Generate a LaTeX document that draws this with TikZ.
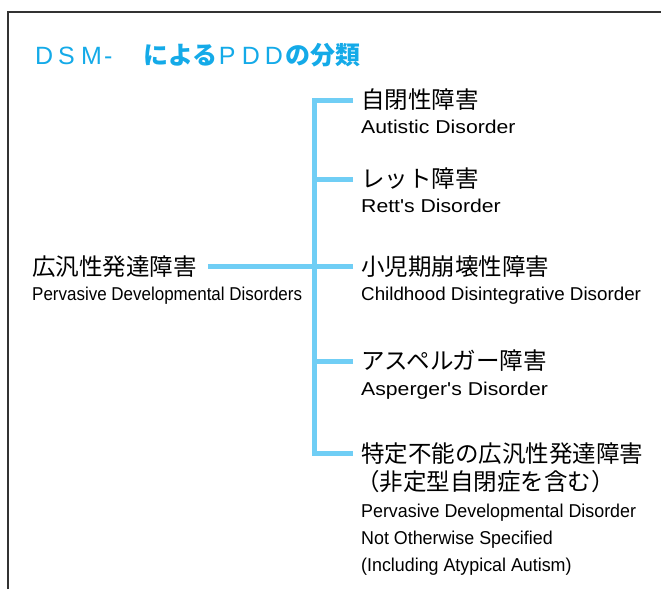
\documentclass[tikz,border=0pt]{standalone}
\usepackage{fontspec}
\setmainfont{Liberation Sans}
\newfontfamily\jp{Noto Sans CJK JP}
\definecolor{ttl}{RGB}{20,170,232}
\definecolor{brc}{RGB}{112,206,245}
\definecolor{frm}{RGB}{50,50,50}
\newcommand{\tl}[1]{\makebox[23pt][l]{#1}}
\begin{document}
\begin{tikzpicture}[x=1pt,y=1pt,
  jlab/.style={anchor=west,inner sep=0pt,font=\jp\fontsize{23.5}{28}\selectfont},
  elab/.style={anchor=base west,inner sep=0pt,font=\fontsize{18.6}{22}\selectfont},
  conn/.style={draw=brc,line width=5pt},
  frameline/.style={draw=frm,line width=1.3pt}]
\useasboundingbox (0,0) rectangle (661,-589);
% frame
\draw[frameline] (8,-589) -- (8,-12) -- (661,-12);
% title
\node[anchor=base west,inner sep=0pt,text=ttl,font=\fontsize{25}{30}\selectfont] (title) at (35,-64)
  {\tl{D}\tl{S}\tl{M}-\hspace{31pt}{\jp\bfseries による}\hspace{1pt}\tl{P}\tl{D}\makebox[21pt][l]{D}{\jp\bfseries の分類}};
% root
\node[jlab] (root) at (32,-266.5) {広汎性発達障害};
\node[elab] (rootE) at (32,-300) {\scalebox{0.913}[1]{Pervasive Developmental Disorders}};
% branches
\node[jlab] (b1) at (361,-100) {自閉性障害};
\node[elab] (b1E) at (361,-133) {\scalebox{1.14}[1]{Autistic Disorder}};
\node[jlab] (b2) at (361,-179) {レット障害};
\node[elab] (b2E) at (361,-212.5) {\scalebox{1.14}[1]{Rett\textquotesingle s Disorder}};
\node[jlab] (b3) at (361,-266.5) {小児期崩壊性障害};
\node[elab] (b3E) at (361,-300) {\scalebox{1.01}[1]{Childhood Disintegrative Disorder}};
\node[jlab] (b4) at (361,-361) {アスペルガー障害};
\node[elab] (b4E) at (361,-395) {\scalebox{1.14}[1]{Asperger\textquotesingle s Disorder}};
\node[jlab] (b5) at (361,-453.5) {特定不能の広汎性発達障害};
\node[jlab] (b5b) at (356,-482) {（非定型自閉症を含む）};
\node[elab] (b5E1) at (361,-517) {\scalebox{0.96}[1]{Pervasive Developmental Disorder}};
\node[elab] (b5E2) at (361,-544) {\scalebox{0.96}[1]{Not Otherwise Specified}};
\node[elab] (b5E3) at (361,-571) {\scalebox{0.96}[1]{(Including Atypical Autism)}};
% connectors
\coordinate (j) at (314.5,-266.5);
\draw[conn] ([xshift=11pt]root.east) -- (root.east -| j);
\draw[conn] ([xshift=-8pt]b1.west) -- (b1.west -| j) -- (b5.west -| j) -- ([xshift=-8pt]b5.west);
\draw[conn] ([xshift=-8pt]b2.west) -- (b2.west -| j);
\draw[conn] ([xshift=-8pt]b3.west) -- (b3.west -| j);
\draw[conn] ([xshift=-8pt]b4.west) -- (b4.west -| j);
\end{tikzpicture}
\end{document}
